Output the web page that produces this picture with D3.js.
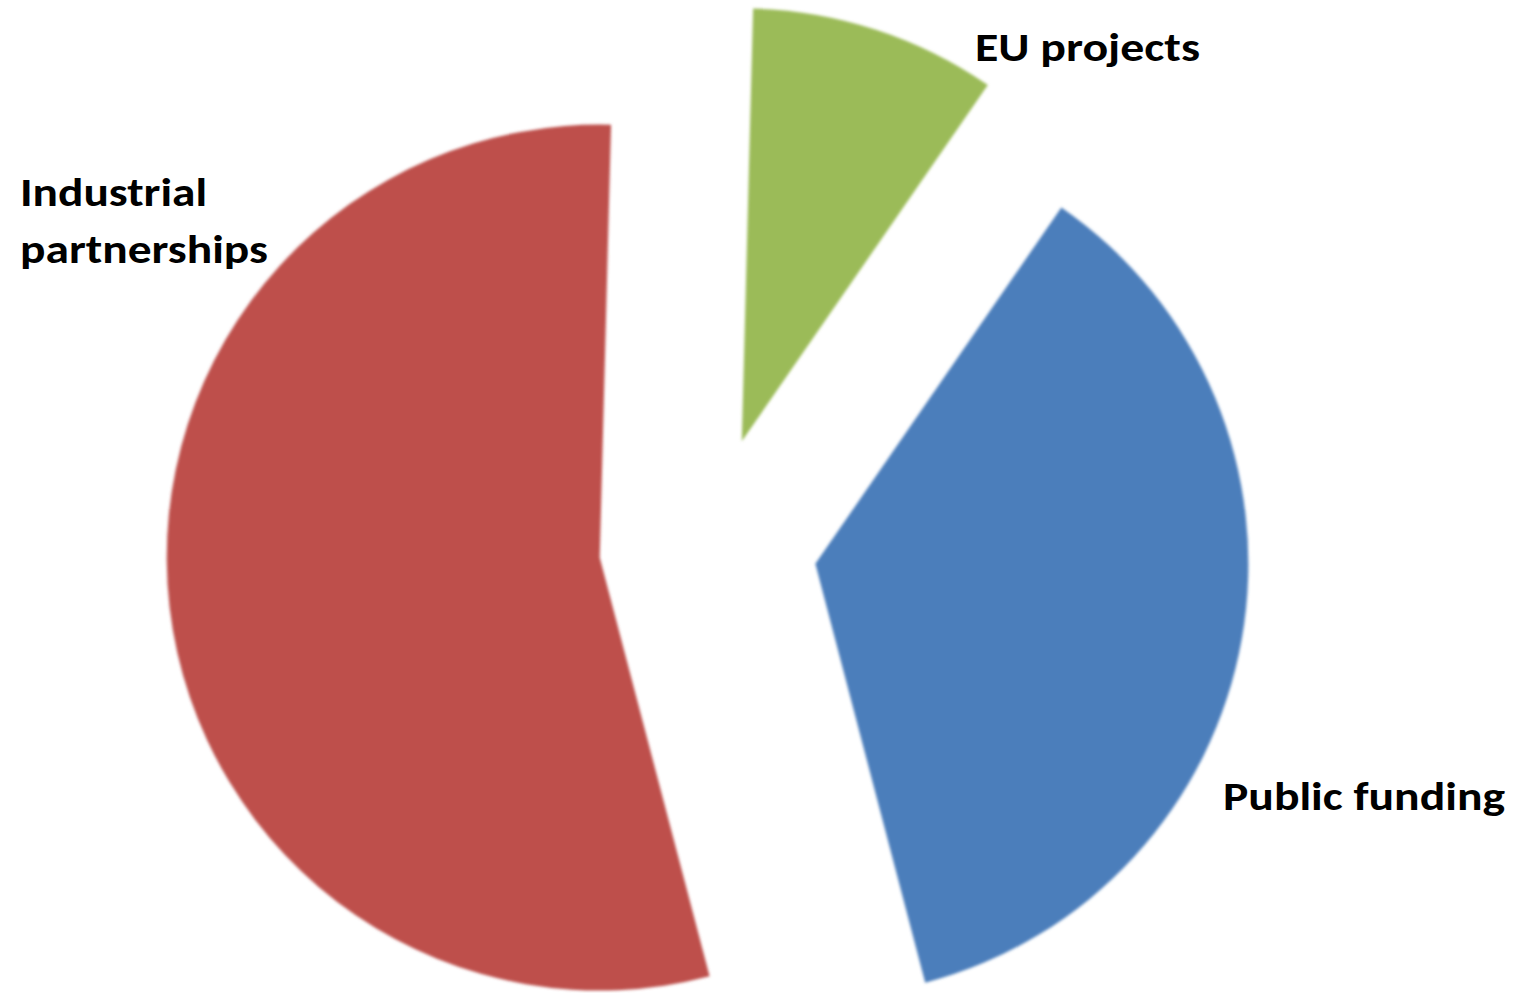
<!DOCTYPE html>
<html>
<head>
<meta charset="utf-8">
<script src="https://cdn.jsdelivr.net/npm/d3@7"></script>
<style>
  html, body { margin: 0; padding: 0; background: #ffffff; }
  svg { display: block; }
  text { font-family: Carlito, Calibri, Lato, "Open Sans", sans-serif; font-weight: 900; fill: #000; }
</style>
</head>
<body>
<svg id="chart" width="1517" height="993"></svg>
<script>
// ---- data ----
const categories = ["EU projects", "Public funding", "Industrial partnerships"];
const values = [9.2, 36.3, 54.5];
const colors = ["#9BBB59", "#4B7EBB", "#BE4F4C"];

const W = 1517, H = 993;
const cx = 708, cy = 545, R = 433, explode = 109;
const startDeg = 1.5;

const svg = d3.select("#chart");
const defs = svg.append("defs");
const f = defs.append("filter").attr("id", "soft")
  .attr("x", "-5%").attr("y", "-5%").attr("width", "110%").attr("height", "110%");
f.append("feGaussianBlur").attr("stdDeviation", 1.4);

const pie = d3.pie().sort(null)
  .startAngle(startDeg * Math.PI / 180)
  .endAngle(startDeg * Math.PI / 180 + 2 * Math.PI)
  .value(d => d);
const arcs = pie(values);
const arc = d3.arc().innerRadius(0).outerRadius(R);

const g = svg.append("g").attr("transform", `translate(${cx},${cy})`);
g.selectAll("path").data(arcs).enter().append("path")
  .attr("d", arc)
  .attr("fill", (d, i) => colors[i])
  .attr("filter", "url(#soft)")
  .attr("transform", d => {
    const a = (d.startAngle + d.endAngle) / 2;
    return `translate(${explode * Math.sin(a)},${-explode * Math.cos(a)})`;
  });

// ---- labels ----
const labelSpecs = [
  { lines: ["EU projects"], x: 975, y: 61, widths: [225] },
  { lines: ["Public funding"], x: 1223, y: 810, widths: [282] },
  { lines: ["Industrial", "partnerships"], x: 20, y: 206, widths: [187, 248] }
];
labelSpecs.forEach((s, i) => {
  s.lines.forEach((ln, j) => {
    svg.append("text")
      .attr("x", s.x).attr("y", s.y + j * 57)
      .attr("font-size", 40)
      .attr("textLength", s.widths[j])
      .attr("lengthAdjust", "spacingAndGlyphs")
      .text(ln);
  });
});
</script>
</body>
</html>
